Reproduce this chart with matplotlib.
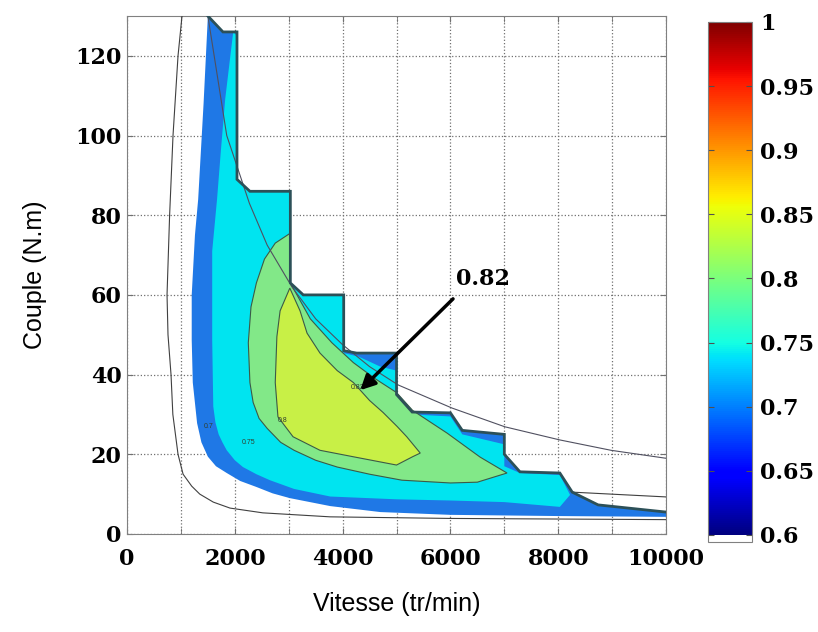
import matplotlib.pyplot as plt
import numpy as np
from matplotlib import colors

# efficiency map of the motor, outlines
# speed in tr/min, torque in N.m

# max torque envelope (stepped outline)
env_n = [1500, 1780, 2040, 2040, 2280, 3030, 3030, 3270, 4020, 4020, 4260, 5000, 5000, 5290,
         6000, 6220, 7000, 7000, 7290, 8030, 8260, 8740, 10000]
env_T = [130, 126, 126, 89, 86, 86, 63, 60, 60, 46, 45.4, 45.4, 35, 30.6,
         30.4, 26, 25, 20, 15.6, 15.3, 10.5, 7.3, 5.5]

# lower / left edge of the 0.7 band
low70_n = [10000, 8000, 6000, 4700, 3770, 3020, 2700, 2400, 2100, 1850, 1650, 1500, 1380, 1300,
           1220, 1200, 1200, 1260, 1320, 1420]
low70_T = [4.3, 4.5, 4.8, 5.5, 7.0, 9.0, 10.2, 11.8, 13.3, 15.3, 17, 19.4, 23, 27.8,
           38, 48.7, 60, 75, 84, 108]

# 0.75 band
cyan_n = [1970, 1820, 1740, 1670, 1580, 1580, 1600, 1640, 1700, 1770, 1850, 2000, 2150, 2400, 2650,
          3100, 3770, 5000, 6000, 7000, 8030, 8220, 8030, 7290, 7000, 7000, 6220, 6000, 5290, 5000,
          5000, 4700, 4300, 4020, 4020, 3270, 3030, 3030, 2280, 2040, 2040]
cyan_T = [126, 109, 96, 84, 71, 48.7, 32, 28, 25, 23, 21, 18.5, 16.8, 15, 13.5,
          11.3, 9.4, 8.7, 8.4, 8.0, 6.8, 9.8, 14.8, 15.3, 17, 22.5, 25, 29.5, 30, 34,
          41, 42, 44.5, 45.4, 60, 60, 63, 86, 86, 89, 125]

# 0.78 band
grn_n = [3030, 2750, 2550, 2400, 2300, 2250, 2280, 2340, 2450, 2600, 2850, 3100, 3500, 3900, 4500,
         5100, 6000, 6500, 7050, 6550, 5940, 5300, 5000, 4600, 4200, 3800, 3400, 3030]
grn_T = [75.5, 73, 69, 63, 57, 48, 38, 33, 29, 26.5, 23, 21, 18.5, 16.8, 15,
         13.5, 12.8, 13, 15.3, 19.3, 25.3, 31, 35.5, 39, 43, 48, 54, 63]

# 0.8 band
yel_n = [3020, 3210, 3340, 3580, 3900, 4200, 4500, 4750, 5010, 5190, 5440, 5300, 5000, 4190, 3580,
         3080, 2800, 2750, 2780, 2840]
yel_T = [61.7, 56, 50.4, 45.4, 41, 38, 33.5, 30.5, 27, 24.4, 20.3, 19.4, 17.3, 19.4, 21,
         24.4, 29.4, 38, 49.5, 56]

# thin outer contour (white band)
out_n = [1020, 946, 853, 790, 742, 760, 816, 850, 946, 1040, 1200, 1350, 1600, 1910, 2520, 3770, 6000, 10000]
out_T = [130, 120, 100, 80, 60, 50, 40, 30, 20, 15, 12, 10, 8, 6.5, 5.3, 4.3, 3.9, 3.6]
out2_n = [8260, 10000]
out2_T = [10.5, 9.3]

# constant power curve
pw_n = [1500, 1850, 2270, 2600, 3060, 3500, 4000, 4500, 5030, 6030, 7010, 8030, 8980, 10000]
pw_T = [130, 100, 83, 72.5, 62, 54, 47.5, 42, 37.4, 31.6, 26.9, 23.6, 21, 19]

# contour labels
clab_txt = ['0.7', '0.75', '0.8', '0.82']
clab_n = [1420, 2120, 2800, 4150]
clab_T = [26.5, 22.5, 28, 36.5]

cb_ticks = [0.6, 0.65, 0.7, 0.75, 0.8, 0.85, 0.9, 0.95, 1]

serif = 'DejaVu Serif'
sans = 'Liberation Sans'

fig = plt.figure(figsize=(8.18, 6.32), dpi=100)
ax = fig.add_axes([0.1553, 0.1551, 0.6589, 0.8196])

# 0.7 band = envelope + lower edge
blue_n = env_n + low70_n
blue_T = env_T + low70_T
ax.fill(blue_n, blue_T, color='#1f78e6', lw=0, zorder=2)
ax.fill(cyan_n, cyan_T, color='#00e4f0', lw=0, zorder=3)
ax.fill(grn_n, grn_T, facecolor='#82e888', edgecolor='#3c5a46', lw=0.8, zorder=4)
ax.fill(yel_n, yel_T, facecolor='#c8f046', edgecolor='#3c5a46', lw=0.8, zorder=5)

ax.plot(out_n, out_T, color='#404040', lw=0.8, zorder=6)
ax.plot(out2_n, out2_T, color='#404040', lw=0.8, zorder=6)
ax.plot(pw_n, pw_T, color='#505060', lw=0.8, zorder=7)
ax.plot(env_n, env_T, color='#2c5058', lw=2.0, zorder=8, solid_joinstyle='miter')

for t, x, y in zip(clab_txt, clab_n, clab_T):
    ax.text(x, y, t, fontsize=5, color='#304030', family='Liberation Sans', zorder=9)

ax.annotate('', xy=(4290, 35.6), xytext=(6085, 59.5),
            arrowprops=dict(arrowstyle='-|>', lw=2.5, color='black', mutation_scale=22), zorder=10)
ax.text(6600, 64, '0.82', fontsize=16, fontweight='bold', family=serif, ha='center', va='center')

ax.set_xlim(0, 10000)
ax.set_ylim(0, 130)
ax.set_xticks(np.arange(0, 10001, 2000))
ax.set_xticks(np.arange(0, 10001, 1000), minor=True)
ax.set_yticks(np.arange(0, 121, 20))
ax.grid(True, which='both', linestyle=':', color='#707070', lw=0.9, zorder=1)
ax.set_axisbelow(True)
ax.tick_params(which='both', direction='in', length=4, color='#707070', top=True, right=True)
ax.tick_params(axis='x', pad=10)
ax.tick_params(axis='y', pad=4)
for lbl in ax.get_xticklabels() + ax.get_yticklabels():
    lbl.set_fontfamily(serif)
    lbl.set_fontweight('bold')
    lbl.set_fontsize(16)
for s in ax.spines.values():
    s.set_color('#808080')

ax.set_xlabel('Vitesse (tr/min)', family=sans, fontsize=18, labelpad=16)
ax.set_ylabel('Couple (N.m)', family=sans, fontsize=18, labelpad=20)

# colorbar, jet from 0.6 to 1 with white below
cmap = plt.get_cmap('jet').copy()
cmap.set_under('white')
sm = plt.cm.ScalarMappable(norm=colors.Normalize(0.6, 1.0), cmap=cmap)
cax = fig.add_axes([0.8655, 0.1424, 0.0538, 0.8228])
cb = fig.colorbar(sm, cax=cax, extend='min', extendrect=True, extendfrac=0.014, ticks=cb_ticks)
cb.ax.set_yticklabels(['0.6', '0.65', '0.7', '0.75', '0.8', '0.85', '0.9', '0.95', '1'])
cb.ax.tick_params(direction='in', length=4, color='#505050', left=True, pad=6)
for lbl in cb.ax.get_yticklabels():
    lbl.set_fontfamily(serif)
    lbl.set_fontweight('bold')
    lbl.set_fontsize(16)
cb.outline.set_edgecolor('#808080')

fig.savefig('out.png', dpi=100)
